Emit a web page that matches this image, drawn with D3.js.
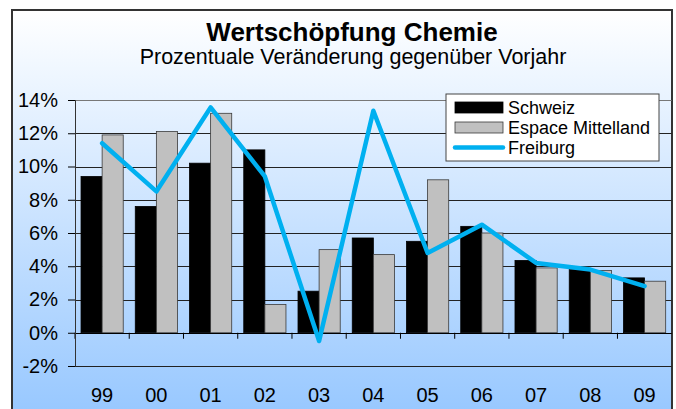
<!DOCTYPE html>
<html>
<head>
<meta charset="utf-8">
<script src="https://cdn.jsdelivr.net/npm/d3@7"></script>
<style>
  html, body { margin: 0; padding: 0; background: #fff; }
  svg { display: block; font-family: 'Liberation Sans', Arial, sans-serif; }
</style>
</head>
<body>
<script>
// Chart values
const years = ['99', '00', '01', '02', '03', '04', '05', '06', '07', '08', '09']
const schweiz = [9.4, 7.6, 10.2, 11.0, 2.5, 5.7, 5.5, 6.4, 4.35, 3.8, 3.3]
const espaceMittelland = [11.9, 12.1, 13.2, 1.7, 5.0, 4.7, 9.2, 6.0, 3.9, 3.75, 3.1]
const freiburg = [11.4, 8.5, 13.55, 9.4, -0.5, 13.35, 4.8, 6.5, 4.2, 3.8, 2.8]
const yTicks = [-2, 0, 2, 4, 6, 8, 10, 12, 14]
const seriesNames = ['Schweiz', 'Espace Mittelland', 'Freiburg']

const width = 676
const height = 409
const plot = { left: 75, right: 671.7, top: 100, bottom: 366 }

const svg = d3.select('body').append('svg')
  .attr('width', width)
  .attr('height', height)

// Background gradient for the whole chart frame
const defs = svg.append('defs')
const grad = defs.append('linearGradient')
  .attr('id', 'bg')
  .attr('x1', 0).attr('y1', 0).attr('x2', 0).attr('y2', 1)
grad.append('stop').attr('offset', '0%').attr('stop-color', '#ffffff')
grad.append('stop').attr('offset', '100%').attr('stop-color', '#98c8ff')

svg.append('rect')
  .attr('x', 12)
  .attr('y', 10)
  .attr('width', 660)
  .attr('height', 402)
  .attr('fill', 'url(#bg)')
  .attr('stroke', '#333')
  .attr('stroke-width', 2)

// Titles
svg.append('text')
  .attr('x', 352)
  .attr('y', 41)
  .attr('text-anchor', 'middle')
  .attr('font-size', 26)
  .attr('font-weight', 'bold')
  .text('Wertschöpfung Chemie')

svg.append('text')
  .attr('x', 353)
  .attr('y', 64)
  .attr('text-anchor', 'middle')
  .attr('font-size', 21.5)
  .text('Prozentuale Veränderung gegenüber Vorjahr')

// Scales
const x = d3.scaleBand()
  .domain(years)
  .range([plot.left, plot.right])
  .paddingInner(0.222)
  .paddingOuter(0.111)

const xInner = d3.scaleBand()
  .domain([0, 1])
  .range([0, x.bandwidth()])

const y = d3.scaleLinear()
  .domain([-2, 14])
  .range([plot.bottom, plot.top])

// Gridlines
svg.append('g')
  .attr('class', 'grid')
  .selectAll('line')
  .data(yTicks)
  .enter()
  .append('line')
  .attr('x1', plot.left)
  .attr('x2', plot.right)
  .attr('y1', d => Math.round(y(d)) + 0.5)
  .attr('y2', d => Math.round(y(d)) + 0.5)
  .attr('stroke', d => d === 14 ? '#777' : '#222')
  .attr('stroke-width', 1)

// Bars
const barData = years.map((yr, i) => ({ year: yr, values: [schweiz[i], espaceMittelland[i]] }))
const groups = svg.append('g')
  .attr('class', 'bars')
  .selectAll('g')
  .data(barData)
  .enter()
  .append('g')
  .attr('transform', d => `translate(${x(d.year)},0)`)

groups.selectAll('rect')
  .data(d => d.values.map((v, k) => ({ v, k })))
  .enter()
  .append('rect')
  .attr('x', d => xInner(d.k))
  .attr('width', xInner.bandwidth())
  .attr('y', d => y(Math.max(0, d.v)))
  .attr('height', d => Math.abs(y(d.v) - y(0)))
  .attr('fill', d => d.k === 0 ? '#000' : '#c0c0c0')
  .attr('stroke', d => d.k === 0 ? '#000' : '#3a3a3a')
  .attr('stroke-width', 0.8)

// Zero line on top of the bars
svg.append('line')
  .attr('x1', plot.left)
  .attr('x2', plot.right)
  .attr('y1', Math.round(y(0)) + 0.5)
  .attr('y2', Math.round(y(0)) + 0.5)
  .attr('stroke', '#000')

// Category boundary ticks below the zero line
svg.append('g')
  .selectAll('line')
  .data(d3.range(years.length))
  .enter()
  .append('line')
  .attr('x1', i => x(years[i]) - x.step() * x.paddingOuter())
  .attr('x2', i => x(years[i]) - x.step() * x.paddingOuter())
  .attr('y1', y(0))
  .attr('y2', y(0) + 6)
  .attr('stroke', '#000')

// Y axis
const yAxis = svg.append('g')
  .attr('transform', `translate(${plot.left},0)`)
  .call(d3.axisLeft(y)
    .tickValues(yTicks)
    .tickSize(7)
    .tickPadding(10)
    .tickFormat(d => d + '%'))
yAxis.select('.domain').attr('stroke', '#333')
yAxis.selectAll('.tick line').attr('stroke', '#000')
yAxis.selectAll('text')
  .attr('font-size', 20)
  .attr('font-family', 'Liberation Sans, Arial, sans-serif')
  .attr('fill', '#000')

// Category labels
svg.append('g')
  .selectAll('text')
  .data(years)
  .enter()
  .append('text')
  .attr('x', d => x(d) + x.bandwidth() / 2)
  .attr('y', 402)
  .attr('text-anchor', 'middle')
  .attr('font-size', 20)
  .text(d => d)

// Freiburg line
const line = d3.line()
  .x((d, i) => x(years[i]) + x.bandwidth() / 2)
  .y(d => y(d))

svg.append('path')
  .datum(freiburg)
  .attr('d', line)
  .attr('fill', 'none')
  .attr('stroke', '#00b0f0')
  .attr('stroke-width', 4.5)
  .attr('stroke-linejoin', 'round')
  .attr('stroke-linecap', 'round')

// Legend
const legend = svg.append('g')
  .attr('class', 'legend')
  .attr('transform', 'translate(446,94)')

legend.append('rect')
  .attr('width', 213)
  .attr('height', 67)
  .attr('fill', '#fff')
  .attr('stroke', '#444')

const rows = legend.selectAll('g.row')
  .data(seriesNames)
  .enter()
  .append('g')
  .attr('class', 'row')
  .attr('transform', (d, i) => `translate(0,${13.5 + i * 20})`)

rows.each(function (name, i) {
  const row = d3.select(this)
  if (i < 2) {
    row.append('rect')
      .attr('x', 9)
      .attr('y', -5.5)
      .attr('width', 48)
      .attr('height', 11)
      .attr('fill', i === 0 ? '#000' : '#c0c0c0')
      .attr('stroke', i === 0 ? '#000' : '#3a3a3a')
      .attr('stroke-width', 0.8)
  } else {
    row.append('line')
      .attr('x1', 9)
      .attr('x2', 57)
      .attr('stroke', '#00b0f0')
      .attr('stroke-width', 4.5)
      .attr('stroke-linecap', 'round')
  }
  row.append('text')
    .attr('x', 62)
    .attr('y', 6)
    .attr('font-size', 18)
    .text(name)
})
</script>
</body>
</html>
